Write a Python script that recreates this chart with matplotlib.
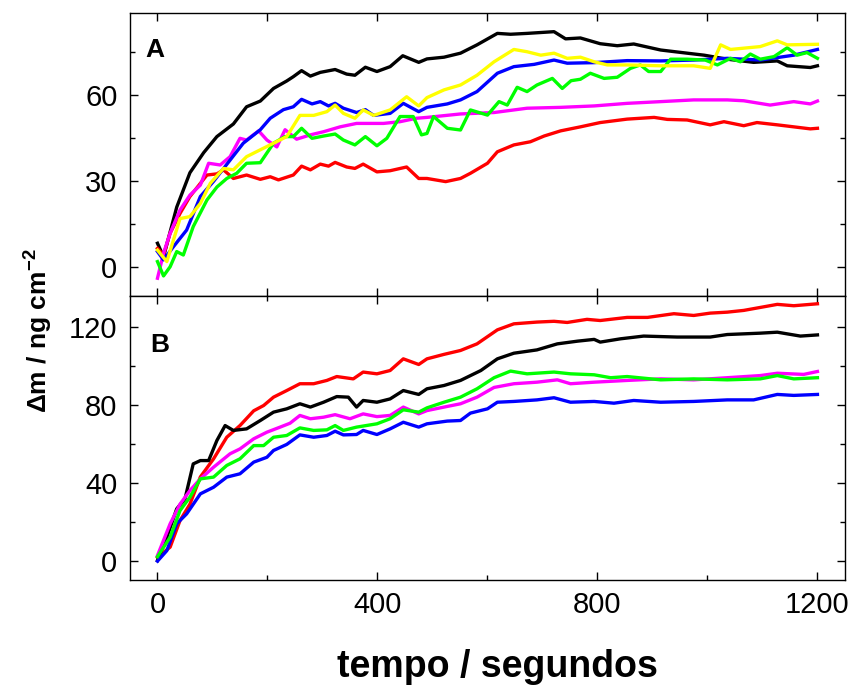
import numpy as np
import matplotlib.pyplot as plt
from matplotlib.ticker import MultipleLocator

plt.rcParams['font.family'] = ['Liberation Sans', 'DejaVu Sans']
plt.rcParams['mathtext.fontset'] = 'custom'
plt.rcParams['mathtext.rm'] = 'Liberation Sans'
plt.rcParams['mathtext.bf'] = 'Liberation Sans:bold'

# ---------------------------------------------------
# Panel A data (tempo in s, delta m in ng cm-2)
# ---------------------------------------------------

a_black_t = [0, 11, 35, 59, 84, 108, 138, 162, 187, 211, 235, 247, 262, 278, 296, 323, 344, 359, 378, 399,
             423, 446, 475, 490, 521, 551, 581, 618, 642, 672, 721, 742, 769, 805, 836, 866, 915, 963, 994,
             1036, 1084, 1127, 1145, 1187, 1200]
a_black_y = [8.4, 3.7, 21, 33, 40, 45.6, 50, 56, 58, 62.4, 65, 66.5, 68.6, 66.7, 68, 69, 67.4, 67, 69.8, 68.3,
             70, 73.8, 71.5, 72.7, 73.3, 74.7, 77.6, 81.6, 81.3, 81.6, 82.2, 79.7, 80, 78, 77.3, 77.9, 75.8, 74.7, 74,
             72.6, 71.5, 72, 70.3, 69.7, 70.3]

a_yellow_t = [0, 17, 29, 41, 59, 78, 96, 120, 138, 162, 187, 211, 235, 259, 284, 308, 323, 338, 359, 374, 393,
              423, 453, 475, 490, 521, 551, 581, 612, 648, 672, 697, 721, 745, 769, 794, 818, 854, 915, 975, 1005,
              1024, 1042, 1096, 1127, 1145, 1200]
a_yellow_y = [6, 2, 9.5, 17, 17.7, 22.3, 29.3, 34.5, 34, 38.6, 41, 43.3, 45.6, 53, 53, 54.3, 56.6, 53.7, 52, 54.9, 53,
              54.9, 59.5, 56.3, 59.2, 61.9, 63.6, 67, 71.7, 76, 75.2, 74, 74.7, 72.9, 73.3, 71.7, 70.6, 70.6, 70.3, 70.3, 69.4,
              77.6, 76, 77, 79, 77.6, 77.8]

a_blue_t = [0, 11, 29, 53, 78, 102, 132, 156, 187, 205, 229, 247, 262, 281, 296, 311, 323, 338, 362, 378, 393,
            423, 447, 475, 490, 527, 551, 581, 618, 648, 685, 721, 745, 794, 854, 915, 975, 1036, 1096, 1157, 1200]
a_blue_y = [5.5, 2.6, 7.2, 13, 24.7, 30, 37.4, 43.3, 48, 52, 55, 56, 58.6, 57, 57.8, 56.3, 57.2, 55.5, 54, 55, 53,
            53.7, 57.2, 54.3, 55.8, 57, 58.4, 61.3, 67.7, 70, 70.8, 72.3, 71.2, 71.4, 72.1, 72, 72.3, 72.9, 72.3, 74, 76]

a_magenta_t = [0, 11, 23, 41, 59, 78, 93, 114, 132, 150, 162, 184, 199, 217, 232, 253, 278, 302, 332, 362, 411,
               441, 471, 490, 551, 612, 672, 733, 794, 854, 915, 975, 1036, 1066, 1114, 1157, 1187, 1200]
a_magenta_y = [-3.8, 4.9, 11.9, 20, 25.2, 28.7, 36.3, 35.7, 38.6, 45, 44.4, 47.6, 44.4, 42, 48, 44.7, 46.2, 47.3, 49,
               50.2, 50.2, 50.8, 52, 52.3, 53.5, 54, 55.5, 55.8, 56.3, 57.2, 57.8, 58.4, 58.4, 58.1, 56.6, 57.8, 57, 58]

a_red_t = [0, 11, 23, 41, 59, 78, 90, 108, 120, 138, 162, 187, 205, 220, 247, 262, 278, 296, 311, 323, 344, 359,
           374, 399, 423, 453, 475, 490, 524, 551, 569, 600, 618, 648, 678, 703, 733, 769, 805, 854, 903, 927, 963,
           1005, 1030, 1066, 1090, 1127, 1157, 1187, 1200]
a_red_y = [6.6, 4.3, 11.9, 18.8, 24.7, 29.3, 32.2, 32.6, 34, 31, 32.2, 30.7, 31.6, 30.5, 32.2, 35.3, 34, 36, 35.3, 36.6,
           35, 34.5, 36, 33.3, 33.7, 35, 31, 31, 29.9, 31, 32.8, 36.3, 40.3, 42.7, 43.8, 45.8, 47.6, 49, 50.5, 51.7, 52.3,
           51.6, 51.4, 49.7, 50.8, 49.4, 50.5, 49.7, 49, 48.3, 48.5]

a_green_t = [0, 11, 23, 35, 47, 65, 90, 108, 126, 144, 162, 187, 211, 232, 247, 262, 281, 302, 323, 338, 359, 378,
             399, 417, 441, 465, 480, 490, 502, 527, 551, 569, 600, 621, 636, 654, 672, 690, 718, 736, 752, 769, 787,
             812, 836, 860, 878, 893, 915, 933, 963, 996, 1018, 1042, 1060, 1078, 1096, 1121, 1145, 1163, 1181, 1200]
a_green_y = [2, -3, 0.2, 5.5, 4.3, 14.2, 23.5, 28, 31, 32.8, 36.3, 36.5, 43.3, 45.6, 45.6, 48.5, 45, 45.8, 46.5, 44.4,
             42.7, 45.6, 42.4, 45, 52.6, 52.6, 46.2, 46.7, 52.6, 48.5, 47.9, 54.9, 53.1, 57.8, 56.6, 62.8, 61.3, 63.6,
             65.9, 62.4, 65.1, 65.6, 67.7, 65.9, 66.3, 69.4, 70.6, 68.3, 68.3, 72.6, 72.6, 72.3, 70.6, 72.9, 71.7, 74.4,
             72.6, 73.5, 76.6, 74, 74.9, 72.9]

# ---------------------------------------------------
# Panel B data
# ---------------------------------------------------

b_red_t = [0, 23, 41, 59, 78, 102, 126, 150, 175, 193, 211, 235, 259, 284, 308, 326, 356, 374, 399, 423, 447, 475,
           490, 521, 551, 581, 618, 648, 690, 721, 745, 781, 805, 854, 891, 939, 975, 1005, 1036, 1066, 1127, 1157, 1200]
b_red_y = [1.7, 6.9, 20.6, 29, 43, 52.3, 63.4, 69.4, 77, 79.7, 84, 87.4, 90.9, 90.9, 92.6, 94.6, 93.4, 96.9, 96, 97.7,
           103.7, 100.8, 103.7, 106, 108, 111.4, 118.6, 121.7, 122.6, 123, 122.4, 124, 123.4, 125, 125, 126.9, 126,
           127.2, 127.7, 128.6, 131.7, 131, 132]

b_black_t = [0, 17, 35, 50, 65, 78, 93, 108, 123, 138, 162, 187, 211, 235, 259, 278, 302, 326, 347, 362, 374, 399,
             423, 447, 475, 490, 521, 551, 588, 618, 648, 690, 727, 764, 794, 805, 842, 884, 945, 1005, 1036, 1096,
             1127, 1169, 1200]
b_black_y = [0, 12, 26.6, 31.7, 49.7, 51.4, 51.4, 61.7, 69.4, 66.9, 67.7, 72, 76.3, 78, 80.6, 78.9, 81.4, 84.3, 84,
             78.9, 82.3, 81.4, 83.1, 87.4, 85.4, 88.3, 90, 92.6, 97.7, 103.7, 106.6, 108.3, 111.4, 112.8, 113.7, 112.3,
             114, 115.4, 114.9, 114.9, 116.2, 116.9, 117.4, 115.4, 116]

b_magenta_t = [0, 23, 41, 59, 78, 102, 132, 150, 175, 199, 223, 241, 259, 278, 302, 323, 350, 374, 399, 423, 447,
               475, 490, 521, 551, 581, 612, 648, 690, 727, 751, 794, 854, 915, 975, 1036, 1096, 1127, 1175, 1200]
b_magenta_y = [2.6, 18.9, 29, 36, 42, 48, 54.9, 57.4, 62.6, 66, 68.6, 70.6, 74.6, 72.9, 73.7, 75, 72.9, 75.4, 74, 74.6,
               78.9, 75.4, 77.1, 78.9, 80.6, 84, 89, 90.9, 91.7, 92.9, 90.9, 91.7, 92.6, 93.4, 92.9, 94, 95.1, 96.3, 95.7, 97.2]

b_green_t = [0, 23, 41, 59, 78, 102, 126, 150, 175, 193, 211, 235, 259, 284, 308, 323, 338, 362, 399, 423, 447, 475,
             490, 521, 551, 581, 612, 642, 672, 721, 751, 794, 824, 854, 915, 975, 1036, 1096, 1127, 1157, 1200]
b_green_y = [2, 12, 25.7, 32.6, 42, 42.9, 48.9, 52.3, 59.1, 59.1, 63.4, 64.3, 68.2, 66.9, 67.2, 69.4, 66.9, 68.6, 70.3,
             72.9, 77.5, 76.3, 78.5, 81.4, 84, 88.3, 94, 97.4, 96, 96.9, 96, 95.5, 94, 94.6, 92.9, 93.4, 92.9, 93.4, 95.1,
             93.4, 94]

b_blue_t = [0, 17, 35, 53, 78, 102, 126, 150, 175, 199, 211, 235, 259, 284, 308, 323, 338, 362, 374, 399, 423, 447,
            475, 490, 527, 551, 569, 600, 618, 648, 690, 721, 751, 794, 830, 866, 915, 975, 1036, 1084, 1127, 1157, 1200]
b_blue_y = [-0.3, 5.1, 18.9, 24, 34.3, 37.7, 42.9, 44.6, 50.6, 53.1, 56.6, 59.7, 64.6, 63.4, 64.3, 66.5, 64.6, 64.8,
            66.9, 64.8, 67.7, 71.1, 68.6, 70.3, 71.7, 72, 75.8, 78, 81.4, 81.8, 82.6, 83.7, 81.4, 81.8, 80.9, 82.3, 81.4,
            81.8, 82.6, 82.6, 85.4, 84.9, 85.4]

# ---------------------------------------------------
# Figure
# ---------------------------------------------------

fig = plt.figure(figsize=(8.54, 6.86), dpi=100)
axA = fig.add_axes([0.1522, 0.5685, 0.8372, 0.4125])
axB = fig.add_axes([0.1522, 0.1545, 0.8372, 0.414])

lw = 2.4
axA.plot(a_black_t, a_black_y, color='black', lw=lw)
axA.plot(a_red_t, a_red_y, color='#ff0000', lw=lw)
axA.plot(a_magenta_t, a_magenta_y, color='#ff00ff', lw=lw)
axA.plot(a_blue_t, a_blue_y, color='#0000ff', lw=lw)
axA.plot(a_green_t, a_green_y, color='#00ff00', lw=lw)
axA.plot(a_yellow_t, a_yellow_y, color='#ffff00', lw=lw)

axB.plot(b_red_t, b_red_y, color='#ff0000', lw=lw)
axB.plot(b_black_t, b_black_y, color='black', lw=lw)
axB.plot(b_blue_t, b_blue_y, color='#0000ff', lw=lw)
axB.plot(b_magenta_t, b_magenta_y, color='#ff00ff', lw=lw)
axB.plot(b_green_t, b_green_y, color='#00ff00', lw=lw)

axA.set_ylim(-10, 88.7)
axB.set_ylim(-10, 136)
axA.yaxis.set_major_locator(MultipleLocator(30))
axA.yaxis.set_minor_locator(MultipleLocator(15))
axB.yaxis.set_major_locator(MultipleLocator(40))
axB.yaxis.set_minor_locator(MultipleLocator(20))

for ax in (axA, axB):
    ax.set_xlim(-50, 1250)
    ax.xaxis.set_major_locator(MultipleLocator(400))
    ax.xaxis.set_minor_locator(MultipleLocator(200))
    ax.tick_params(which='both', direction='in', top=True, right=True, width=1.0, labelsize=21)
    ax.tick_params(which='major', length=6)
    ax.tick_params(which='minor', length=3.6)
    ax.tick_params(axis='y', pad=9)
    ax.tick_params(axis='x', pad=8)
    for s in ax.spines.values():
        s.set_linewidth(1.0)

# minor x ticks get the same length as major ticks in the upper panel
axA.tick_params(axis='x', which='minor', length=6)
axA.tick_params(axis='x', labelbottom=False)

axA.text(0.021, 0.846, 'A', transform=axA.transAxes, fontsize=19, fontweight='bold', va='baseline')
axB.text(0.028, 0.804, 'B', transform=axB.transAxes, fontsize=19, fontweight='bold', va='baseline')

fig.text(497 / 854, 1 - 667 / 686, 'tempo / segundos', fontsize=27, fontweight='bold', ha='center', va='center')
fig.text(38 / 854, 1 - 331 / 686, r'$\mathbf{\Delta m}$ / ng cm$^{\mathbf{-2}}$', fontsize=19, fontweight='bold',
         rotation=90, ha='center', va='center')

fig.savefig('out.png', dpi=100)
